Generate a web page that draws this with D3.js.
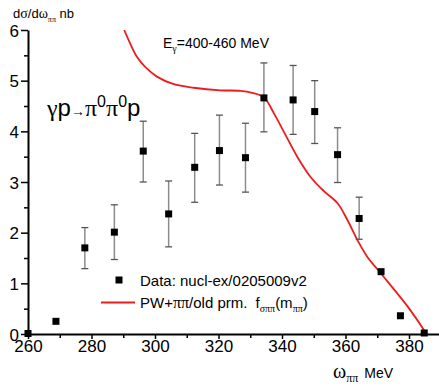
<!DOCTYPE html>
<html>
<head>
<meta charset="utf-8">
<script src="https://cdn.jsdelivr.net/npm/d3@7"></script>
<style>
  body { margin: 0; background: #fff; }
  text { font-family: Arial, "Liberation Sans", sans-serif; fill: #000; }
  .greek { font-family: "Liberation Serif", "Times New Roman", serif; }
</style>
</head>
<body>
<script>
// data points (omega_pipi in MeV, dsigma/domega in nb)
const dataX   = [260, 268.8, 277.9, 287.2, 296.3, 304.3, 312.5, 320.3, 328.5, 334.3, 343.5, 350.3, 357.5, 364.3, 371.2, 377.3, 384.8];
const dataY   = [0.01, 0.25, 1.70, 2.01, 3.61, 2.37, 3.29, 3.62, 3.48, 4.66, 4.62, 4.39, 3.54, 2.28, 1.23, 0.36, 0.02];
const errLow  = [null, null, 1.29, 1.47, 3.00, 1.72, 2.60, 2.94, 2.80, 3.99, 3.94, 3.76, 2.99, 1.87, null, null, null];
const errHigh = [null, null, 2.10, 2.55, 4.20, 3.02, 3.96, 4.32, 4.16, 5.35, 5.30, 5.00, 4.07, 2.70, null, null, null];

// model curve PW+pipi/old prm.
const curveX = [290.3, 292.2, 294.3, 296.9, 300.6, 305.9, 312.2, 320.6, 327.0, 330.6, 334.3, 337.5, 340.6, 344.8, 349.0, 353.2, 357.5, 360.6, 363.8, 366.9, 371.1, 375.4, 379.6, 384.8, 385.5];
const curveY = [6.0, 5.73, 5.47, 5.27, 5.08, 4.93, 4.86, 4.81, 4.80, 4.76, 4.67, 4.35, 3.99, 3.50, 3.10, 2.82, 2.58, 2.25, 1.85, 1.52, 1.20, 0.87, 0.54, 0.07, 0.0];

const xTicks = [260, 280, 300, 320, 340, 360, 380];
const xMinor = [270, 290, 310, 330, 350, 370, 390];
const yTicks = [0, 1, 2, 3, 4, 5, 6];
const yMinor = [0.5, 1.5, 2.5, 3.5, 4.5, 5.5];

const width = 439, height = 387;
const margin = { top: 30, right: 0, bottom: 53, left: 28 };

const svg = d3.select("body").append("svg")
    .attr("width", width)
    .attr("height", height);

const x = d3.scaleLinear().domain([260, 390]).range([margin.left, margin.left + 130 * 3.175]);
const y = d3.scaleLinear().domain([0, 6]).range([height - margin.bottom, margin.top]);

// clip for the curve
svg.append("clipPath").attr("id", "plot")
  .append("rect")
    .attr("x", margin.left).attr("y", margin.top)
    .attr("width", width - margin.left).attr("height", height - margin.bottom - margin.top);

// x axis
const xAxis = svg.append("g")
    .attr("transform", `translate(0,${y(0)})`)
    .call(d3.axisBottom(x).tickValues(xTicks).tickFormat(d3.format("d")).tickSize(5).tickSizeOuter(0).tickPadding(2));
svg.append("g")
    .attr("transform", `translate(0,${y(0)})`)
    .call(d3.axisBottom(x).tickValues(xMinor).tickSize(4).tickSizeOuter(0).tickFormat(""))
    .select(".domain").remove();

// y axis
const yAxis = svg.append("g")
    .attr("transform", `translate(${margin.left},0)`)
    .call(d3.axisLeft(y).tickValues(yTicks).tickFormat(d3.format("d")).tickSize(7).tickSizeOuter(0).tickPadding(2));
svg.append("g")
    .attr("transform", `translate(${margin.left},0)`)
    .call(d3.axisLeft(y).tickValues(yMinor).tickSize(4).tickSizeOuter(0).tickFormat(""))
    .select(".domain").remove();

svg.selectAll(".domain").attr("stroke", "#000").attr("stroke-width", 2);
svg.selectAll(".tick line").attr("stroke", "#000").attr("stroke-width", 1.5);
xAxis.selectAll(".tick text").attr("font-size", 17).attr("dy", "0.66em")
    .attr("font-family", "Arial, 'Liberation Sans', sans-serif");
yAxis.selectAll(".tick text").attr("font-size", 17).attr("dy", "0.36em")
    .attr("font-family", "Arial, 'Liberation Sans', sans-serif");

// model curve
const line = d3.line()
    .x((d, i) => x(curveX[i]))
    .y(d => y(d))
    .curve(d3.curveCatmullRom.alpha(0.5));

svg.append("path")
    .datum(curveY)
    .attr("clip-path", "url(#plot)")
    .attr("fill", "none")
    .attr("stroke", "#ee1c1c")
    .attr("stroke-width", 1.8)
    .attr("d", line);

// error bars
const pts = dataX.map((d, i) => ({ x: d, y: dataY[i], lo: errLow[i], hi: errHigh[i] }));
const withErr = pts.filter(d => d.lo !== null);

const eb = svg.append("g");
eb.selectAll(".ev").data(withErr).enter().append("line")
    .attr("x1", d => x(d.x)).attr("x2", d => x(d.x))
    .attr("y1", d => y(d.lo)).attr("y2", d => y(d.hi))
    .attr("stroke", "#8c8c8c").attr("stroke-width", 1.5);
["lo", "hi"].forEach(k => {
  eb.selectAll(".cap-" + k).data(withErr).enter().append("line")
      .attr("x1", d => x(d.x) - 3.5).attr("x2", d => x(d.x) + 3.5)
      .attr("y1", d => y(d[k])).attr("y2", d => y(d[k]))
      .attr("stroke", "#555").attr("stroke-width", 1.3);
});

// data squares
svg.append("g").selectAll("rect").data(pts).enter().append("rect")
    .attr("x", d => x(d.x) - 3.5)
    .attr("y", d => y(d.y) - 3.5)
    .attr("width", 7).attr("height", 7)
    .attr("fill", "#000");

// y axis title
const yt = svg.append("text").attr("x", 13).attr("y", 18).attr("font-size", 13);
yt.append("tspan").text("d");
yt.append("tspan").attr("class", "greek").attr("font-size", 14).text("σ");
yt.append("tspan").text("/d");
yt.append("tspan").attr("class", "greek").attr("font-size", 14).text("ω");
yt.append("tspan").attr("class", "greek").attr("font-size", 8).attr("dy", 4).text("ππ");
yt.append("tspan").attr("dy", -4).text(" nb");

// x axis title
const xt = svg.append("text").attr("x", 333).attr("y", 378).attr("font-size", 14);
xt.append("tspan").attr("class", "greek").attr("font-size", 20).text("ω");
xt.append("tspan").attr("class", "greek").attr("font-size", 12).attr("dy", 4).text("ππ");
xt.append("tspan").attr("dy", -4).attr("dx", 6).text("MeV");

// beam energy label
const et = svg.append("text").attr("x", 163).attr("y", 48).attr("font-size", 14);
et.append("tspan").text("E");
et.append("tspan").attr("class", "greek").attr("font-size", 10).attr("dy", 4).text("γ");
et.append("tspan").attr("dy", -4).text("=400-460 MeV");

// reaction label
const rt = svg.append("text").attr("x", 47).attr("y", 116).attr("font-size", 24);
rt.append("tspan").attr("class", "greek").text("γ");
rt.append("tspan").text("p");
rt.append("tspan").attr("class", "greek").attr("font-size", 14).text("→");
rt.append("tspan").attr("class", "greek").text("π");
rt.append("tspan").attr("font-size", 16).attr("dy", -9).text("0");
rt.append("tspan").attr("class", "greek").attr("dy", 9).text("π");
rt.append("tspan").attr("font-size", 16).attr("dy", -9).text("0");
rt.append("tspan").attr("dy", 9).text("p");

// legend
const lg = svg.append("g");
lg.append("rect").attr("x", 115.5).attr("y", 276.5).attr("width", 7).attr("height", 7).attr("fill", "#000");
lg.append("text").attr("x", 140).attr("y", 286).attr("font-size", 15).text("Data: nucl-ex/0205009v2");
lg.append("line").attr("x1", 101).attr("x2", 135).attr("y1", 302.5).attr("y2", 302.5)
    .attr("stroke", "#ee1c1c").attr("stroke-width", 1.8);
const l2 = lg.append("text").attr("x", 140).attr("y", 308).attr("font-size", 15);
l2.append("tspan").text("PW+");
l2.append("tspan").attr("class", "greek").attr("font-size", 16).text("ππ");
l2.append("tspan").text("/old prm.");
l2.append("tspan").attr("dx", 8).text("f");
l2.append("tspan").attr("class", "greek").attr("font-size", 10).attr("dy", 4).text("σππ");
l2.append("tspan").attr("dy", -4).text("(m");
l2.append("tspan").attr("class", "greek").attr("font-size", 10).attr("dy", 4).text("ππ");
l2.append("tspan").attr("dy", -4).text(")");
</script>
</body>
</html>
